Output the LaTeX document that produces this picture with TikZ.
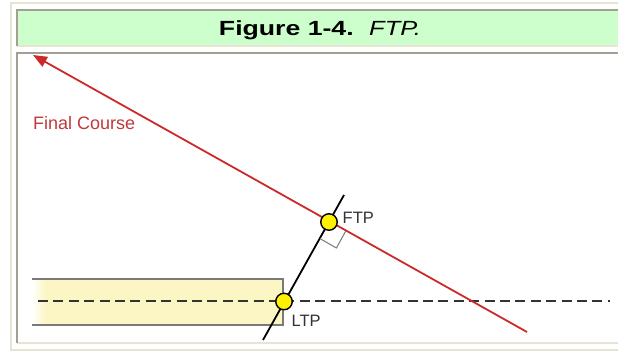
\documentclass[tikz,border=0pt]{standalone}
\usepackage{fontspec}
\setmainfont{Liberation Sans}
\usetikzlibrary{arrows.meta}
\definecolor{hdrgreen}{HTML}{CCFFCC}
\definecolor{framegray}{HTML}{A39F92}
\definecolor{framebeige}{HTML}{E8E4D4}
\definecolor{courseRed}{HTML}{CC2A2A}
\definecolor{labelRed}{HTML}{BE3A3C}
\definecolor{stripYellow}{HTML}{FBF6C4}
\definecolor{stripGray}{HTML}{7A7A78}
\definecolor{txtGray}{HTML}{333333}
\tikzset{
  fix/.style={circle, draw=black, line width=1.4pt, fill=yellow, minimum size=16.5pt, inner sep=0pt},
  fixlabel/.style={font=\fontsize{16.5}{19}\selectfont, text=txtGray, inner sep=0pt, anchor=base west},
  courseline/.style={draw=courseRed, line width=1.8pt},
  legline/.style={draw=black, line width=1.8pt},
  centerline/.style={draw=txtGray, line width=2.8pt, dash pattern=on 10pt off 5.4pt},
  stripedge/.style={draw=stripGray, line width=1.4pt},
  rightangle/.style={draw=stripGray, line width=1pt},
}
\begin{document}
\begin{tikzpicture}[x=1pt,y=-1pt]
\useasboundingbox (0,0) rectangle (618,351);
% background
\fill[white] (0,0) rectangle (618,351);
% outer frame (light)
\draw[framebeige, line width=2pt] (11,351) -- (11,3) -- (618,3);
\draw[framebeige, line width=2pt] (11,350) -- (618,350);
% header cell
\fill[hdrgreen] (18,11) rectangle (618,45);
\draw[framebeige, line width=2pt] (17,46) -- (618,46);
\draw[framegray, line width=2pt] (17,46) -- (17,10) -- (618,10);
% panel cell
\fill[white] (18,54) rectangle (618,342);
\draw[framebeige, line width=2pt] (17,343) -- (618,343);
\draw[framegray, line width=2pt] (17,343) -- (17,53) -- (618,53);
% title
\node[anchor=base, inner sep=0pt, font=\fontsize{20.5}{24}\selectfont] (title) at (320,35.5)
  {\scalebox{1.3}[1]{\bfseries Figure 1-4.}\hspace{15.5pt}\scalebox{1.24}[1]{\itshape FTP.}};
% runway strip
\fill[stripYellow] (45,279) rectangle (283,325);
\shade[left color=white, right color=stripYellow] (32,279) rectangle (45.5,325);
\draw[stripedge] (32,279) -- (283,279) -- (283,325) -- (32,325);
% extended centerline
\coordinate (clW) at (38,301);
\coordinate (clE) at (610,301);
\draw[centerline] (clW) -- (clE);
% points
\coordinate (ftpC) at (329,222);
\coordinate (ltpC) at (284,301.5);
% final course
\coordinate (fcTail) at (527,332);
\coordinate (fcTip) at (33,55);
\draw[courseline, -{Triangle[length=14pt,width=11pt]}] (fcTail) -- (fcTip);
% leg line through LTP and FTP
\coordinate (legS) at (263,340);
\coordinate (legN) at (344,195);
\draw[legline] (legS) -- (legN);
% right-angle marker
\coordinate (raA) at (320,238.6);
\coordinate (raC) at (336.4,248);
\coordinate (raB) at (345.6,231.3);
\draw[rightangle] (raA) -- (raC) -- (raB);
% fixes
\node[fix] (ftp) at (ftpC) {};
\node[fix] (ltp) at (ltpC) {};
% labels
\node[fixlabel] (ftplabel) at (342.5,223.3) {FTP};
\node[fixlabel] (ltplabel) at (291.5,326.7) {LTP};
\node[inner sep=0pt, anchor=base west, text=labelRed, font=\fontsize{18}{21}\selectfont] (fclabel) at (33,129.3) {Final Course};
\end{tikzpicture}
\end{document}
